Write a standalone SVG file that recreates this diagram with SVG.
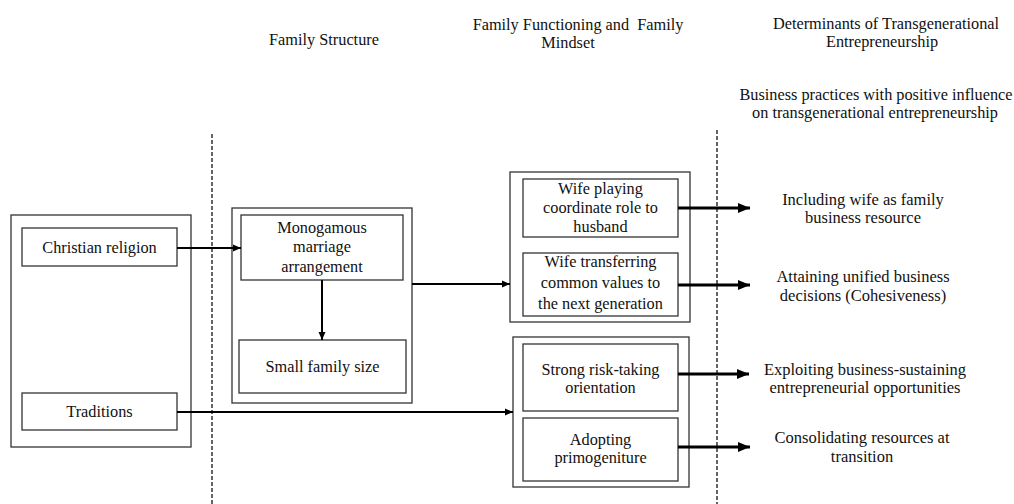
<svg xmlns="http://www.w3.org/2000/svg" width="1014" height="504" viewBox="0 0 1014 504" font-family="'Liberation Serif', 'DejaVu Serif', serif">
<style>
text{font-family:'Liberation Serif','DejaVu Serif','Times New Roman',serif;font-size:16.3px;fill:#111;text-anchor:middle}
.h{font-size:16.3px}
.o{font-size:16.5px}
.box{fill:#fff;stroke:#333;stroke-width:1.3}
.dash{stroke:#111;stroke-width:1.3;stroke-dasharray:4 2;fill:none}
.c{stroke:#000;stroke-width:2;fill:none}
.t{stroke:#000;stroke-width:3;fill:none}
</style>
<defs>
<marker id="a" markerUnits="userSpaceOnUse" markerWidth="10" markerHeight="10" refX="8" refY="5" orient="auto"><path d="M0,1.5 L8,5 L0,8.5 Z" fill="#000"/></marker>
<marker id="b" markerUnits="userSpaceOnUse" markerWidth="14" markerHeight="14" refX="12" refY="7" orient="auto"><path d="M0,2 L12,7 L0,12 Z" fill="#000"/></marker>
</defs>
<g id="headers">
<text class="h" x="324" y="45">Family Structure</text>
<text class="h" x="578" y="30" xml:space="preserve">Family Functioning and  Family</text>
<text class="h" x="568" y="48">Mindset</text>
<text class="h" x="886" y="29">Determinants of Transgenerational</text>
<text class="h" x="882" y="47">Entrepreneurship</text>
<text class="h" x="876" y="100">Business practices with positive influence</text>
<text class="h" x="875" y="118">on transgenerational entrepreneurship</text>
</g>
<g id="dividers">
<line class="dash" x1="212" y1="134" x2="212" y2="504"/>
<line class="dash" x1="717" y1="130" x2="717" y2="504"/>
</g>
<g id="origins">
<rect class="box" x="11" y="215" width="180" height="232"/>
<g id="christian"><rect class="box" x="22" y="228" width="155" height="38"/><text x="99.5" y="253">Christian religion</text></g>
<g id="traditions"><rect class="box" x="22" y="393" width="155" height="37"/><text x="99.5" y="417">Traditions</text></g>
</g>
<g id="structure">
<rect class="box" x="232" y="208" width="180" height="195"/>
<g id="monogamous"><rect class="box" x="241" y="215" width="162" height="65"/><text x="322" y="233">Monogamous</text><text x="322" y="252">marriage</text><text x="322" y="272">arrangement</text></g>
<g id="smallfamily"><rect class="box" x="239" y="340" width="167" height="53"/><text x="322.5" y="372">Small family size</text></g>
</g>
<g id="functioning">
<rect class="box" x="510" y="172" width="180" height="150"/>
<g id="wifeplaying"><rect class="box" x="523" y="179" width="155" height="58"/><text x="600.5" y="194">Wife playing</text><text x="600.5" y="213">coordinate role to</text><text x="600.5" y="232">husband</text></g>
<g id="wifetransferring"><rect class="box" x="523" y="253" width="155" height="63"/><text x="600.5" y="267">Wife transferring</text><text x="600.5" y="288">common values to</text><text x="600.5" y="309">the next generation</text></g>
</g>
<g id="mindset">
<rect class="box" x="513" y="337" width="176" height="150"/>
<g id="risk"><rect class="box" x="523" y="344" width="155" height="67"/><text x="600.5" y="375">Strong risk-taking</text><text x="600.5" y="393">orientation</text></g>
<g id="primogeniture"><rect class="box" x="523" y="418" width="155" height="63"/><text x="600.5" y="445">Adopting</text><text x="600.5" y="463">primogeniture</text></g>
</g>
<g id="outcomes">
<g id="o1"><text class="o" x="863" y="205">Including wife as family</text><text class="o" x="863" y="223">business resource</text></g>
<g id="o2"><text class="o" x="863" y="282">Attaining unified business</text><text class="o" x="863" y="301">decisions (Cohesiveness)</text></g>
<g id="o3"><text class="o" x="865" y="375">Exploiting business-sustaining</text><text class="o" x="865" y="393">entrepreneurial opportunities</text></g>
<g id="o4"><text class="o" x="862" y="443">Consolidating resources at</text><text class="o" x="862" y="462">transition</text></g>
</g>
<g id="connectors">
<line class="c" x1="177" y1="248" x2="241" y2="248" marker-end="url(#a)"/>
<line class="c" x1="322" y1="280" x2="322" y2="340" marker-end="url(#a)"/>
<line class="c" x1="412" y1="284" x2="510" y2="284" marker-end="url(#a)"/>
<line class="c" x1="177" y1="412" x2="513" y2="412" marker-end="url(#a)"/>
<line class="t" x1="678" y1="208" x2="750" y2="208" marker-end="url(#b)"/>
<line class="t" x1="678" y1="285" x2="750" y2="285" marker-end="url(#b)"/>
<line class="t" x1="678" y1="374" x2="749" y2="374" marker-end="url(#b)"/>
<line class="t" x1="678" y1="447" x2="750" y2="447" marker-end="url(#b)"/>
</g>
</svg>
